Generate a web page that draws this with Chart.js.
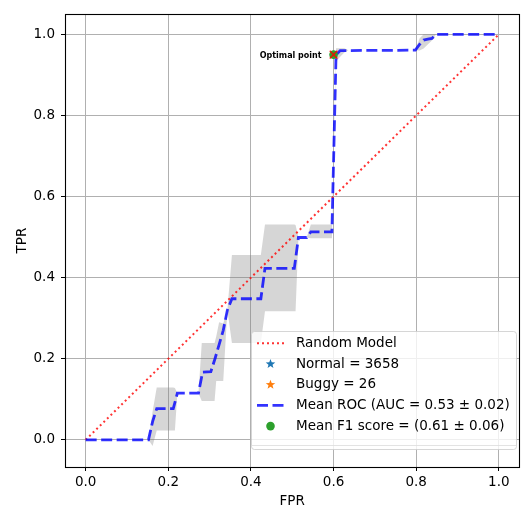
<!DOCTYPE html>
<html><head><meta charset="utf-8">
<script src="https://cdn.jsdelivr.net/npm/chart.js@4.4.0/dist/chart.umd.min.js"></script>
<style>html,body{margin:0;padding:0;background:#fff;} canvas{display:block;}</style>
</head><body>
<canvas id="c" width="527" height="507"></canvas>
<script>
// ---- data ----
const xTicks = [0, 0.2, 0.4, 0.6, 0.8, 1.0];
const yTicks = [0, 0.2, 0.4, 0.6, 0.8, 1.0];
const randomFpr = [0, 1];
const randomTpr = [0, 1];
const meanFpr = [0, 0.152, 0.162, 0.172, 0.212, 0.222, 0.273, 0.283, 0.303, 0.313, 0.323, 0.333, 0.343, 0.354, 0.424, 0.434, 0.505, 0.515, 0.535, 0.545, 0.596, 0.606, 0.616, 0.798, 0.808, 0.818, 0.828, 0.838, 0.848, 1.0];
const meanTpr = [0, 0, 0.045, 0.077, 0.077, 0.115, 0.115, 0.167, 0.168, 0.20, 0.235, 0.27, 0.32, 0.348, 0.348, 0.423, 0.423, 0.499, 0.499, 0.513, 0.513, 0.949, 0.96, 0.961, 0.975, 0.986, 0.988, 0.99, 1.0, 1.0];
const bandFpr   = [0.152, 0.162, 0.172, 0.212, 0.216, 0.222, 0.273, 0.281, 0.312, 0.316, 0.323, 0.333, 0.343, 0.354, 0.424, 0.434, 0.505, 0.508, 0.515, 0.535, 0.545, 0.596, 0.606, 0.616, 0.626, 0.636, 0.798, 0.808, 0.818, 0.828, 0.838, 0.848];
const bandUpper = [0, 0.07, 0.129, 0.129, 0.128, 0.115, 0.115, 0.239, 0.239, 0.255, 0.29, 0.287, 0.32, 0.456, 0.456, 0.531, 0.531, 0.53, 0.499, 0.499, 0.531, 0.531, 0.966, 0.966, 0.966, 0.961, 0.961, 0.99, 1.0, 1.0, 1.0, 1.0];
const bandLower = [0, -0.015, 0.023, 0.023, 0.023, 0.115, 0.115, 0.096, 0.096, 0.145, 0.145, 0.145, 0.32, 0.239, 0.239, 0.317, 0.317, 0.317, 0.499, 0.499, 0.497, 0.497, 0.933, 0.945, 0.955, 0.961, 0.961, 0.96, 0.965, 0.975, 0.985, 1.0];
const optimalFpr = 0.6, optimalTpr = 0.95;
const optimalText = 'Optimal point';
const normalCount = 3658, buggyCount = 26;
const aucMean = 0.53, aucStd = 0.02, f1Mean = 0.61, f1Std = 0.06;
const legendLabels = [
  'Random Model',
  'Normal = ' + normalCount,
  'Buggy = ' + buggyCount,
  'Mean ROC (AUC = ' + aucMean.toFixed(2) + ' \u00b1 ' + aucStd.toFixed(2) + ')',
  'Mean F1 score = (' + f1Mean.toFixed(2) + ' \u00b1 ' + f1Std.toFixed(2) + ')'
];
const xTitle = 'FPR', yTitle = 'TPR';

// ---- helpers ----
const pts = (xs, ys) => xs.map((x, i) => ({x: x, y: ys[i]}));
const FONT = "'DejaVu Sans', sans-serif";
Chart.defaults.font.family = FONT;
Chart.defaults.color = '#000';

function starPath(ctx, cx, cy, R, r) {
  ctx.beginPath();
  for (let i = 0; i < 10; i++) {
    const rad = i % 2 === 0 ? R : r;
    const a = -Math.PI / 2 + i * Math.PI / 5;
    const px = cx + rad * Math.cos(a), py = cy + rad * Math.sin(a);
    if (i === 0) ctx.moveTo(px, py); else ctx.lineTo(px, py);
  }
  ctx.closePath();
}

const deco = {
  id: 'deco',
  afterDatasetsDraw(chart) {
    const {ctx, chartArea: a, scales: {x, y}} = chart;
    ctx.save();
    // frame
    ctx.strokeStyle = '#000';
    ctx.lineWidth = 1.1;
    const l = Math.floor(a.left) + 0.5, t = Math.floor(a.top) + 0.5;
    const r = Math.floor(a.right) + 0.5, b = Math.floor(a.bottom) + 0.5;
    ctx.strokeRect(l, t, r - l, b - t);
    // optimal point marker: red x over green dot
    const ox = x.getPixelForValue(optimalFpr), oy = y.getPixelForValue(optimalTpr);
    ctx.strokeStyle = 'rgba(255,0,0,0.9)';
    ctx.lineWidth = 1.4;
    ctx.beginPath();
    ctx.moveTo(ox - 3.8, oy - 3.8); ctx.lineTo(ox + 3.8, oy + 3.8);
    ctx.moveTo(ox - 3.8, oy + 3.8); ctx.lineTo(ox + 3.8, oy - 3.8);
    ctx.stroke();
    // annotation
    ctx.fillStyle = '#000';
    ctx.font = 'bold 8px ' + FONT;
    ctx.textAlign = 'right';
    ctx.textBaseline = 'middle';
    ctx.fillText(optimalText, ox - 12, oy + 1);
    // legend
    const L = {x: 251.5, y: 331.5, w: 265, h: 118};
    ctx.beginPath();
    ctx.roundRect(L.x, L.y, L.w, L.h, 3);
    ctx.fillStyle = 'rgba(255,255,255,0.8)';
    ctx.fill();
    ctx.strokeStyle = 'rgba(204,204,204,0.8)';
    ctx.lineWidth = 1;
    ctx.stroke();
    ctx.beginPath();
    ctx.moveTo(L.x, 445.5); ctx.lineTo(L.x + L.w, 445.5);
    ctx.strokeStyle = 'rgba(220,220,220,0.8)';
    ctx.stroke();
    const rowY = i => 343.3 + i * 20.7;
    const h0 = 257, h1 = 284, hc = 270.5;
    ctx.save();
    ctx.strokeStyle = 'rgba(255,0,0,0.8)'; ctx.lineWidth = 2; ctx.setLineDash([2, 3]);
    ctx.beginPath(); ctx.moveTo(h0, rowY(0)); ctx.lineTo(h1, rowY(0)); ctx.stroke();
    ctx.restore();
    starPath(ctx, hc, rowY(1), 5, 2.1); ctx.fillStyle = '#1f77b4'; ctx.fill();
    starPath(ctx, hc, rowY(2), 5, 2.1); ctx.fillStyle = '#ff7f0e'; ctx.fill();
    ctx.save();
    ctx.strokeStyle = 'rgba(0,0,255,0.8)'; ctx.lineWidth = 2.8; ctx.setLineDash([11, 4.5]);
    ctx.beginPath(); ctx.moveTo(h0, rowY(3)); ctx.lineTo(h1, rowY(3)); ctx.stroke();
    ctx.restore();
    ctx.beginPath(); ctx.arc(hc, rowY(4), 4.3, 0, Math.PI * 2); ctx.fillStyle = '#2ca02c'; ctx.fill();
    ctx.fillStyle = '#000';
    ctx.font = '13.5px ' + FONT;
    ctx.textAlign = 'left';
    ctx.textBaseline = 'middle';
    legendLabels.forEach((s, i) => ctx.fillText(s, 296, rowY(i)));
    ctx.restore();
  }
};

const tickFont = {size: 13.5, family: FONT};
const gridOpts = {color: '#b0b0b0', lineWidth: 1, tickColor: '#000', tickLength: 4, drawTicks: true};

new Chart(document.getElementById('c'), {
  type: 'scatter',
  data: {datasets: [
    {label: 'upper', data: pts(bandFpr, bandUpper), showLine: true, borderColor: 'rgba(0,0,0,0)', borderWidth: 0, pointRadius: 0, fill: false, order: 10},
    {label: 'lower', data: pts(bandFpr, bandLower), showLine: true, borderColor: 'rgba(0,0,0,0)', borderWidth: 0, pointRadius: 0, fill: '-1', backgroundColor: 'rgba(128,128,128,0.32)', order: 10},
    {label: legendLabels[0], data: pts(randomFpr, randomTpr), showLine: true, borderColor: 'rgba(255,0,0,0.8)', borderWidth: 2, borderDash: [2, 3], pointRadius: 0, order: 4},
    {label: legendLabels[3], data: pts(meanFpr, meanTpr), showLine: true, borderColor: 'rgba(0,0,255,0.8)', borderWidth: 2.8, borderDash: [11, 4.5], pointRadius: 0, order: 3},
    {label: legendLabels[4], data: [{x: optimalFpr, y: optimalTpr}], pointRadius: 4.3, pointBackgroundColor: '#2ca02c', pointBorderWidth: 0, pointBorderColor: 'rgba(0,0,0,0)', order: 2}
  ]},
  options: {
    responsive: false,
    animation: false,
    devicePixelRatio: 1,
    events: [],
    layout: {padding: {top: 11, right: 7.5, left: 0, bottom: 0}},
    plugins: {legend: {display: false}, tooltip: {enabled: false}},
    scales: {
      x: {
        type: 'linear', min: -0.05, max: 1.05,
        afterBuildTicks: s => { s.ticks = xTicks.map(v => ({value: v})); },
        afterFit: s => { s.height = 40; },
        ticks: {font: tickFont, color: '#000', padding: 3, maxRotation: 0, callback: v => Number(v).toFixed(1)},
        grid: gridOpts,
        border: {display: false},
        title: {display: true, text: xTitle, font: tickFont, color: '#000', padding: {top: 0, bottom: -2.5}}
      },
      y: {
        type: 'linear', min: -0.067, max: 1.05,
        afterBuildTicks: s => { s.ticks = yTicks.map(v => ({value: v})); },
        afterFit: s => { s.width = 65; },
        ticks: {font: tickFont, color: '#000', padding: 6, callback: v => Number(v).toFixed(1)},
        grid: gridOpts,
        border: {display: false},
        title: {display: true, text: yTitle, font: tickFont, color: '#000', padding: {top: 13.9, bottom: 0}}
      }
    }
  },
  plugins: [deco]
});
</script>
</body></html>
